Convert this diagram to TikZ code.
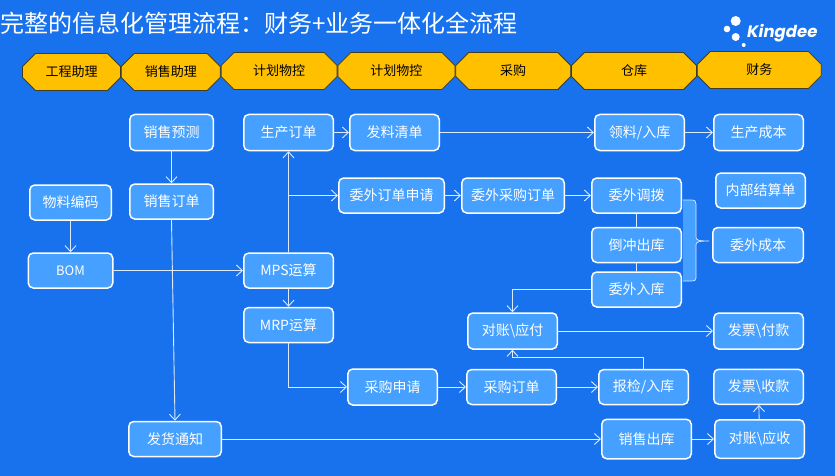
\documentclass[tikz,border=0pt]{standalone}
\usepackage{fontspec}
\setmainfont{Noto Sans CJK SC}
\newfontfamily\logofont{Poppins}
\definecolor{bgblue}{HTML}{1872EE}
\definecolor{boxblue}{HTML}{46A0FF}
\definecolor{gold}{HTML}{FFC000}
\definecolor{goldline}{HTML}{3C3C28}
\definecolor{flowline}{HTML}{DCEBFF}
\usetikzlibrary{positioning}
\usetikzlibrary{arrows.meta}
\usetikzlibrary{shapes.misc}

\begin{document}
\begin{tikzpicture}[x=1pt, y=-1pt,
                    box/.style={rectangle, rounded corners=5pt, draw=white, fill=boxblue, text=white, line width=1.5pt,
                                minimum width=89.5pt, minimum height=35pt, inner sep=0pt, font=\fontsize{14}{16}\selectfont},
                    gatebox/.style={chamfered rectangle, chamfered rectangle xsep=7pt, chamfered rectangle ysep=7pt,
                                    draw=goldline, fill=gold, line width=0.8pt, minimum height=37pt, inner sep=0pt,
                                    font=\fontsize{13}{15}\selectfont},
                    flow/.style={draw=flowline, line width=0.9pt, -{Straight Barb[length=6pt, width=11pt]}},
                    link/.style={draw=flowline, line width=0.9pt},
                    node distance=15pt]
    \useasboundingbox (0,0) rectangle (835,476);
    \fill [bgblue] (0,0) rectangle (835,476);

    \node [anchor=west, text=white, inner sep=0pt, font=\fontsize{24}{28}\selectfont] (title) at (0,23) {完整的信息化管理流程：财务+业务一体化全流程};

    % Logo
    \fill [white] (735.7,21) circle (5);
    \fill [white] (727,29) circle (3.3);
    \fill [white] (735.7,37) circle (4);
    \fill [white] (743.7,45) circle (2);
    \node [anchor=west, text=white, inner sep=0pt, font=\logofont\bfseries\itshape\fontsize{16.5}{18}\selectfont] (logo) at (747,33) {Kingdee};

    % Top banner
    \node [gatebox, minimum width=98pt] (gate_eng) at (71.5,72) {工程助理};
    \node [gatebox, minimum width=99pt, right=0pt of gate_eng] (gate_sales) {销售助理};
    \node [gatebox, minimum width=116pt, right=0pt of gate_sales, yshift=1pt] (gate_plan_a) {计划物控};
    \node [gatebox, minimum width=117pt, right=0pt of gate_plan_a] (gate_plan_b) {计划物控};
    \node [gatebox, minimum width=115pt, right=0pt of gate_plan_b] (gate_buy) {采购};
    \node [gatebox, minimum width=125pt, right=0pt of gate_buy] (gate_store) {仓库};
    \node [gatebox, minimum width=124pt, right=0pt of gate_store, yshift=1pt] (gate_fin) {财务};

    % Sales and BOM columns
    \node [box, minimum width=83.5pt, minimum height=36pt] (forecast) at (171.5,132.5) {销售预测};
    \node [box, minimum width=83.5pt, below=32pt of forecast] (salesord) {销售订单};
    \node [box, minimum width=81.5pt, left=17pt of salesord, yshift=-1pt] (matcode) {物料编码};
    \node [box, minimum width=84.5pt, below=31.5pt of matcode, font=\fontsize{13}{15}\selectfont] (bom) {BOM};
    \node [box, minimum width=92.5pt, below=201pt of salesord, xshift=3.5pt] (notice) {发货通知};

    % Production row
    \node [box, minimum height=36pt, right=29pt of forecast] (prodord) {生产订单};
    \node [box, minimum height=36pt, right=15pt of prodord] (picklist) {发料清单};
    \node [box, minimum height=36pt, right=154pt of picklist] (picking) {领料/入库};
    \node [box, minimum height=36pt, right=28pt of picking] (prodcost) {生产成本};

    % Outsourcing row
    \node [box, minimum width=105.5pt, below=26pt of prodord.south west, anchor=north west, xshift=95pt] (outapply) {委外订单申请};
    \node [box, minimum width=102.5pt, right=16pt of outapply] (outorder) {委外采购订单};
    \node [box, right=26pt of outorder] (outmove) {委外调拨};
    \node [box, below=13pt of outmove] (backflush) {倒冲出库};
    \node [box, below=8pt of backflush] (outin) {委外入库};
    \node [box, right=33pt of outmove, yshift=5pt] (settle) {内部结算单};
    \node [box, minimum width=90.5pt, right=30pt of backflush] (outcost) {委外成本};

    % Planning and purchasing
    \node [box, right=129.5pt of bom] (mps) {MPS运算};
    \node [box, below=18pt of mps] (mrp) {MRP运算};
    \node [box, minimum height=36pt, below=25pt of mrp.south east, anchor=north west, xshift=13pt] (buyapply) {采购申请};
    \node [box, right=28pt of buyapply] (buyorder) {采购订单};
    \node [box, right=41pt of buyorder] (inspect) {报检/入库};
    \node [box, minimum height=36pt, above=19pt of buyorder, xshift=1pt] (payable) {对账\textbackslash 应付};
    \node [box, minimum height=36pt, right=155pt of payable] (invpay) {发票\textbackslash 付款};

    % Delivery row
    \node [box, minimum height=39.5pt, right=379pt of notice] (salesout) {销售出库};
    \node [box, minimum height=38.5pt, right=22pt of salesout] (receivable) {对账\textbackslash 应收};
    \node [box, above=14pt of receivable, xshift=-1pt] (invrec) {发票\textbackslash 收款};

    % Draw the brace
    \path [fill=boxblue] (683,200) -- (691,200) .. controls (695,200) and (696,201) .. (696,204)
        -- (696,237) .. controls (696,240) and (698,241) .. (709,241)
        .. controls (698,241) and (696,242) .. (696,245) -- (696,278)
        .. controls (696,280) and (695,281) .. (691,281) -- (683,281) -- cycle;
    \draw [flowline, line width=0.7pt] (683,200) -- (691,200) .. controls (695,200) and (696,201) .. (696,204)
        -- (696,237) .. controls (696,240) and (698,241) .. (709,241)
        .. controls (698,241) and (696,242) .. (696,245) -- (696,278)
        .. controls (696,280) and (695,281) .. (691,281) -- (683,281);

    % Draw the plain lines
    \draw [link] (outmove)   -- (backflush);
    \draw [link] (backflush) -- (outin);
    % Draw the arrows
    \draw [flow] (forecast)               -- (salesord);
    \draw [flow] (salesord.south)         -- (notice.north);
    \draw [flow] (matcode)                -- (bom);
    \draw [flow] (bom)                    -- (mps);
    \draw [flow] (mps)                    -- (prodord);
    \draw [flow] (mps.north|-outapply)    -- (outapply);
    \draw [flow] (mps)                    -- (mrp);
    \draw [flow] (mrp.south)              |- (buyapply.west);
    \draw [flow] (buyapply)               -- (buyorder);
    \draw [flow] (buyorder)               -- (inspect);
    \draw [flow] (inspect.north)          -- ++(0,-11) -| (payable.south);
    \draw [flow] (prodord)                -- (picklist);
    \draw [flow] (picklist)               -- (picking);
    \draw [flow] (picking)                -- (prodcost);
    \draw [flow] (outapply)               -- (outorder);
    \draw [flow] (outorder)               -- (outmove);
    \draw [flow] (outin.west)             -| (payable.north);
    \draw [flow] (payable)                -- (invpay);
    \draw [flow] (notice)                 -- (salesout);
    \draw [flow] (salesout)               -- (receivable);
    \draw [flow] (receivable)             -- (invrec);
\end{tikzpicture}
\end{document}
